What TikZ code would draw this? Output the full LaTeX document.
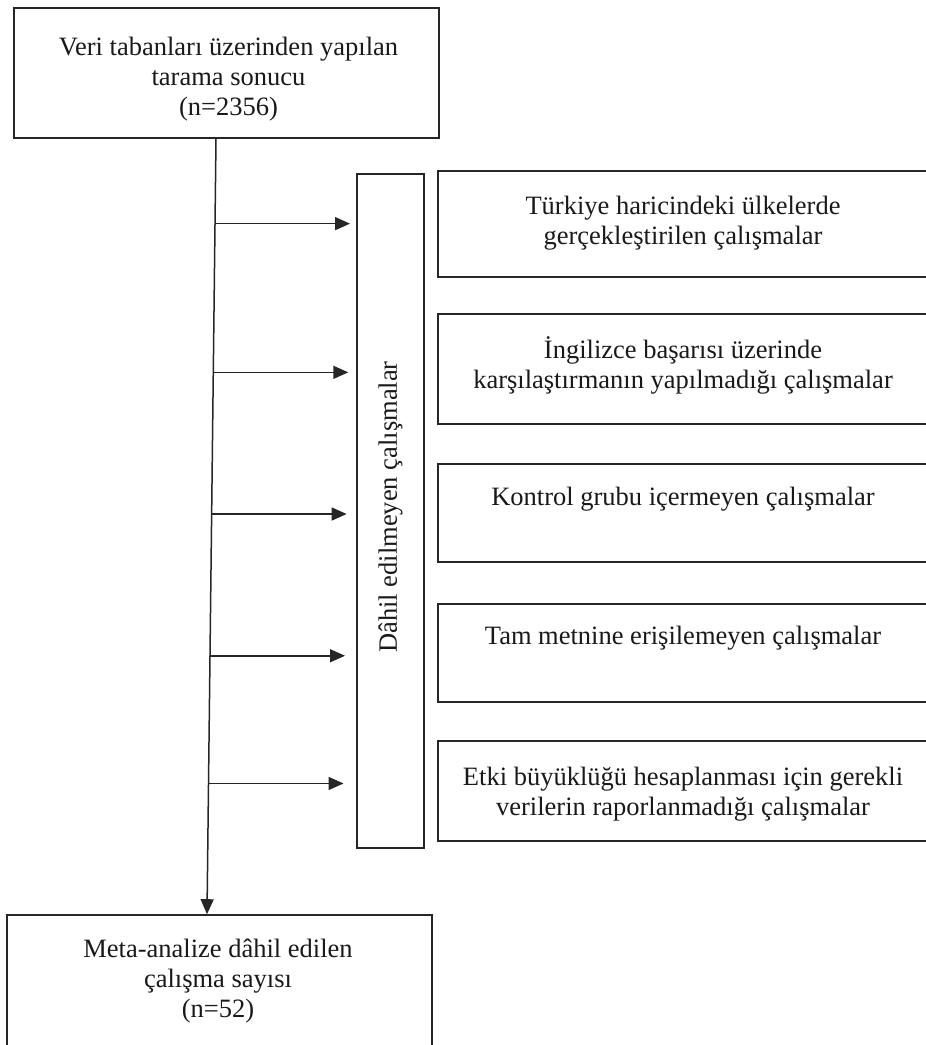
\documentclass[tikz,border=0pt]{standalone}
\usepackage{fontspec}
\setmainfont{Liberation Serif}
\usetikzlibrary{arrows.meta,calc}
\newcommand{\fl}{\rule{0pt}{21bp}}
\begin{document}
\begin{tikzpicture}[x=1bp,y=-1bp,
  box/.style={draw=black!85,line width=1.6bp,rectangle,inner sep=0pt},
  lbl/.style={font=\fontsize{26.5bp}{30bp}\selectfont,align=center,inner sep=0pt,anchor=north,text=black!90},
  arr/.style={draw=black!85,line width=1.5bp,-{Triangle[length=15bp,width=13bp]}}]
\useasboundingbox (0,0) rectangle (926,1045);
% boxes
\node[box,minimum width=425bp,minimum height=130bp] (top) at (226.5,73) {};
\node[box,minimum width=425bp,minimum height=132bp] (bot) at (219.5,981) {};
\node[box,minimum width=67bp,minimum height=674bp] (vb) at (390.5,511) {};
\node[box,minimum width=492bp,minimum height=106bp] (b1) at (684,224) {};
\node[box,minimum width=492bp,minimum height=110bp] (b2) at (684,369) {};
\node[box,minimum width=492bp,minimum height=98bp] (b3) at (684,513) {};
\node[box,minimum width=492bp,minimum height=98bp] (b4) at (684,653) {};
\node[box,minimum width=492bp,minimum height=100bp] (b5) at (684,791) {};
% texts
\node[lbl] (ttop) at (228.5,34) {\fl Veri tabanları üzerinden yapılan\\tarama sonucu\\(n=2356)};
\node[lbl] (tbot) at (218,936) {\fl Meta-analize dâhil edilen\\çalışma sayısı\\(n=52)};
\node[lbl] (t1) at (683,193) {\fl Türkiye haricindeki ülkelerde\\gerçekleştirilen çalışmalar};
\node[lbl] (t2) at (683,336) {\fl İngilizce başarısı üzerinde\\karşılaştırmanın yapılmadığı çalışmalar};
\node[lbl] (t3) at (683,484) {\fl Kontrol grubu içermeyen çalışmalar};
\node[lbl] (t4) at (683,623) {\fl Tam metnine erişilemeyen çalışmalar};
\node[lbl] (t5) at (683,764) {\fl Etki büyüklüğü hesaplanması için gerekli\\verilerin raporlanmadığı çalışmalar};
\node[lbl,anchor=center,rotate=90] (tv) at (390.5,507) {Dâhil edilmeyen çalışmalar};
% main line
\coordinate (ms) at ([xshift=-10.5bp]top.south);
\coordinate (me) at ([xshift=-12.5bp]bot.north);
\draw[arr] (ms) -- (me);
\coordinate (p1) at ($(ms)!0.1094!(me)$);
\coordinate (p2) at ($(ms)!0.3012!(me)$);
\coordinate (p3) at ($(ms)!0.4839!(me)$);
\coordinate (p4) at ($(ms)!0.6667!(me)$);
\coordinate (p5) at ($(ms)!0.8314!(me)$);
\foreach \p in {p1,p2,p3,p4,p5}{
  \draw[arr] (\p) -- ++(135,0);
}
\end{tikzpicture}
\end{document}
